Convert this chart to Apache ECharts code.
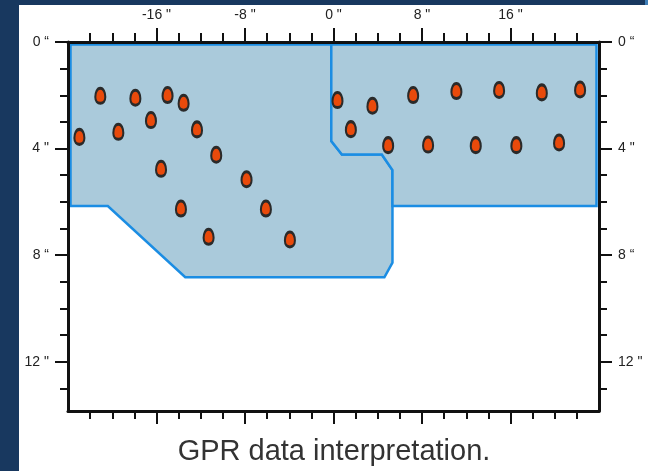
<!DOCTYPE html>
<html>
<head>
<meta charset="utf-8">
<style>
  html, body { margin: 0; padding: 0; background: #fff; }
  #chart { width: 648px; height: 471px; }
</style>
<script src="https://cdn.jsdelivr.net/npm/echarts@6/dist/echarts.min.js"></script>
</head>
<body>
<div id="chart"></div>
<script>
// Scan extent (inches): horizontal offset and depth
const xMin = -24, xMax = 24;
const depthMin = 0, depthMax = 13.85;

// Tick positions and labels
const xMajorTicks = [-16, -8, 0, 8, 16];
const xMinorTicks = [-22, -20, -18, -14, -12, -10, -6, -4, -2, 2, 4, 6, 10, 12, 14, 18, 20, 22];
const yMajorTicks = [0, 4, 8, 12];
const yMajorLabels = ['0 \u201c', '4 "', '8 \u201c', '12 "'];
const yMinorTicks = [1, 2, 3, 5, 6, 7, 9, 10, 11, 13];

// Interpreted zones (x offset, depth)
const zoneLeft = [[-24, 0], [-0.2, 0], [-0.2, 3.72], [0.76, 4.22], [4.37, 4.22], [5.33, 4.81],
  [5.33, 8.28], [4.6, 8.83], [-13.4, 8.83], [-20.4, 6.16], [-24, 6.16]];
const zoneRight = [[-0.2, 0], [24, 0], [24, 6.16], [5.33, 6.16], [5.33, 4.81], [4.37, 4.22],
  [0.76, 4.22], [-0.2, 3.72]];

// Detected reflectors
const targetX = [-21.08, -17.91, -15.0, -13.55, -22.97, -19.45, -16.5, -12.34, -10.6, -15.59,
  -7.86, -13.79, -6.11, -11.29, -3.94,
  0.36, 3.52, 7.2, 1.57, 4.94, 8.55, 11.11, 14.97, 18.83, 22.29, 12.86, 16.53, 20.39];
const targetY = [2.02, 2.09, 1.99, 2.28, 3.56, 3.37, 2.93, 3.28, 4.23, 4.76,
  5.15, 6.25, 6.25, 7.31, 7.41,
  2.18, 2.39, 1.99, 3.27, 3.87, 3.85, 1.84, 1.80, 1.89, 1.78, 3.87, 3.87, 3.77];

const captionText = 'GPR data interpretation.';

const zones = [zoneLeft, zoneRight];
const targets = targetX.map((x, i) => [x, targetY[i]]);

const FONT = '"Liberation Sans", Arial, sans-serif';
const INK = '#111';
const LABEL = '#222';

function xAxisDef(position, ticks, len, withLine, withLabels) {
  return {
    type: 'value', position: position, min: xMin, max: xMax, z: 5,
    axisLine: { show: withLine, onZero: false, lineStyle: { color: INK, width: 3 } },
    axisTick: { show: true, inside: false, length: len, customValues: ticks,
      lineStyle: { color: INK, width: 2 } },
    axisLabel: withLabels ? {
      show: true, customValues: ticks, margin: 20, fontSize: 14, color: LABEL, fontFamily: FONT,
      formatter: v => v + ' "'
    } : { show: false },
    splitLine: { show: false }
  };
}

function yAxisDef(position, ticks, len, withLine, withLabels) {
  return {
    type: 'value', position: position, inverse: true, min: depthMin, max: depthMax, z: 5,
    axisLine: { show: withLine, onZero: false, lineStyle: { color: INK, width: 3 } },
    axisTick: { show: true, inside: false, length: len, customValues: ticks,
      lineStyle: { color: INK, width: 2 } },
    axisLabel: withLabels ? {
      show: true, customValues: ticks, margin: 19, fontSize: 14, color: LABEL, fontFamily: FONT,
      formatter: v => yMajorLabels[yMajorTicks.indexOf(v)]
    } : { show: false },
    splitLine: { show: false }
  };
}

const eggPath = 'path://M5,0 C8.4,0 10,4.6 10,8.6 C10,12.4 8,15 5,15 C2,15 0,12.4 0,8.6 C0,4.6 1.6,0 5,0 Z';

const chart = echarts.init(document.getElementById('chart'), null, { renderer: 'canvas' });

chart.setOption({
  animation: false,
  backgroundColor: '#ffffff',
  graphic: [
    { type: 'rect', z: -10, shape: { x: 0, y: 0, width: 645, height: 5 }, style: { fill: '#18385f' } },
    { type: 'rect', z: -10, shape: { x: 645, y: 0, width: 3, height: 5 }, style: { fill: '#3f7fb8' } },
    { type: 'rect', z: -10, shape: { x: 0, y: 0, width: 19, height: 471 }, style: { fill: '#18385f' } },
    { type: 'text', z: 10, style: {
        text: captionText, x: 334, y: 452, textAlign: 'center', textVerticalAlign: 'middle',
        fontSize: 29, fontFamily: FONT, fill: '#333'
      } }
  ],
  grid: { left: 68, right: 49, top: 42, bottom: 60, containLabel: false, outerBoundsMode: 'none' },
  xAxis: [
    xAxisDef('top', xMajorTicks, 14, true, true),
    xAxisDef('top', xMinorTicks, 9, false, false),
    xAxisDef('bottom', xMajorTicks, 13, true, false),
    xAxisDef('bottom', xMinorTicks, 8, false, false)
  ],
  yAxis: [
    yAxisDef('left', yMajorTicks, 13, true, true),
    yAxisDef('left', yMinorTicks, 8, false, false),
    yAxisDef('right', yMajorTicks, 13, true, true),
    yAxisDef('right', yMinorTicks, 8, false, false)
  ],
  series: [
    {
      type: 'custom',
      xAxisIndex: 0, yAxisIndex: 0,
      clip: false,
      z: 1,
      data: zones.map((z, i) => [i]),
      renderItem: function (params, api) {
        const zone = zones[api.value(0)];
        const cs = params.coordSys;
        const inset = 2.5;
        const pts = zone.map(p => {
          const c = api.coord(p);
          return [
            Math.min(Math.max(c[0], cs.x + inset), cs.x + cs.width - inset),
            Math.min(Math.max(c[1], cs.y + inset), cs.y + cs.height - inset)
          ];
        });
        return {
          type: 'polygon',
          shape: { points: pts },
          style: { fill: '#aacadb', stroke: '#1b8de3', lineWidth: 2.5, lineJoin: 'miter' }
        };
      }
    },
    {
      type: 'scatter',
      xAxisIndex: 0, yAxisIndex: 0,
      z: 3,
      symbol: eggPath,
      symbolSize: [10, 15],
      itemStyle: { color: '#e94a0b', borderColor: '#2a2a2a', borderWidth: 2.5, opacity: 1 },
      data: targets
    }
  ]
});
</script>
</body>
</html>
